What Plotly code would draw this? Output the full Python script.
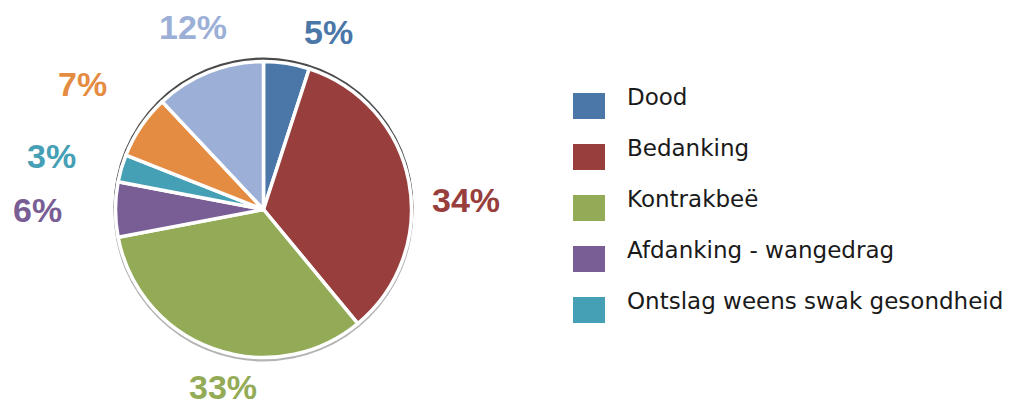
import math
import plotly.graph_objects as go

# ---- data ----
categories = ["Dood", "Bedanking", "Kontrakbeë", "Afdanking - wangedrag",
              "Ontslag weens swak gesondheid", "Ander", "Onbekend"]
values = [5, 34, 33, 6, 3, 7, 12]
legend_categories = categories[:5]

# ---- style ----
colors = ["#4A76A8", "#983F3D", "#93AB56", "#795E96", "#46A0B5", "#E58C43", "#9CB0D7"]
label_nudge_deg = [11, 8, -7, 0, -2, 0.6, 0.6]
label_dist_px = [189, 203, 182, 226, 219, 220, 196]

W, H = 1011, 405
cx, cy, R = 263.5, 209.5, 148.0


def px(x):
    return x / W


def py(y):
    return 1 - y / H


fig = go.Figure()
fig.add_trace(go.Pie(
    labels=categories, values=values, sort=False, direction="clockwise", rotation=0,
    marker=dict(colors=colors, line=dict(color="white", width=3.5)),
    textinfo="none", showlegend=False, hoverinfo="label+percent",
    domain=dict(x=[px(cx - R), px(cx + R)], y=[py(cy + R), py(cy - R)]),
))

shapes = []
annotations = []
# rim behind the pie: dark at the top, lighter at the bottom
shapes.append(dict(type="circle", xref="paper", yref="paper", layer="below",
                   x0=px(cx - R - 2), x1=px(cx + R + 2),
                   y0=py(cy - 2 + R + 2), y1=py(cy - 2 - R - 2),
                   fillcolor="#4a4a4a", line=dict(width=0)))
shapes.append(dict(type="circle", xref="paper", yref="paper", layer="below",
                   x0=px(cx - R - 2), x1=px(cx + R + 2),
                   y0=py(cy + 2 + R + 2), y1=py(cy + 2 - R - 2),
                   fillcolor="#b4b4b4", line=dict(width=0)))

total = sum(values)
cum = 0
for i, v in enumerate(values):
    mid = (cum + v / 2) / total * 360 + label_nudge_deg[i]
    cum += v
    a = math.radians(mid)
    d = label_dist_px[i]
    annotations.append(dict(
        x=px(cx + d * math.sin(a)), y=py(cy - d * math.cos(a)),
        xref="paper", yref="paper", xanchor="center", yanchor="middle",
        text=f"{v}%", showarrow=False,
        font=dict(family="Liberation Sans, Arial", size=34, color=colors[i], weight="bold"),
    ))

# legend (first five categories, as in the reference)
for i, name in enumerate(legend_categories):
    yc = 106 + 51 * i
    shapes.append(dict(type="rect", xref="paper", yref="paper",
                       x0=px(573), x1=px(605), y0=py(yc + 13), y1=py(yc - 13),
                       fillcolor=colors[i], line=dict(width=0)))
    annotations.append(dict(
        x=px(625), y=py(yc - 9), xref="paper", yref="paper",
        xanchor="left", yanchor="middle", text=name, showarrow=False,
        font=dict(family="DejaVu Sans", size=23, color="#1a1a1a"),
    ))

fig.update_layout(
    width=W, height=H, margin=dict(l=0, r=0, t=0, b=0),
    paper_bgcolor="white", plot_bgcolor="white",
    shapes=shapes, annotations=annotations,
)

fig.write_html("out.html", config={"displayModeBar": False},
               post_script="document.body.style.margin='0';")
